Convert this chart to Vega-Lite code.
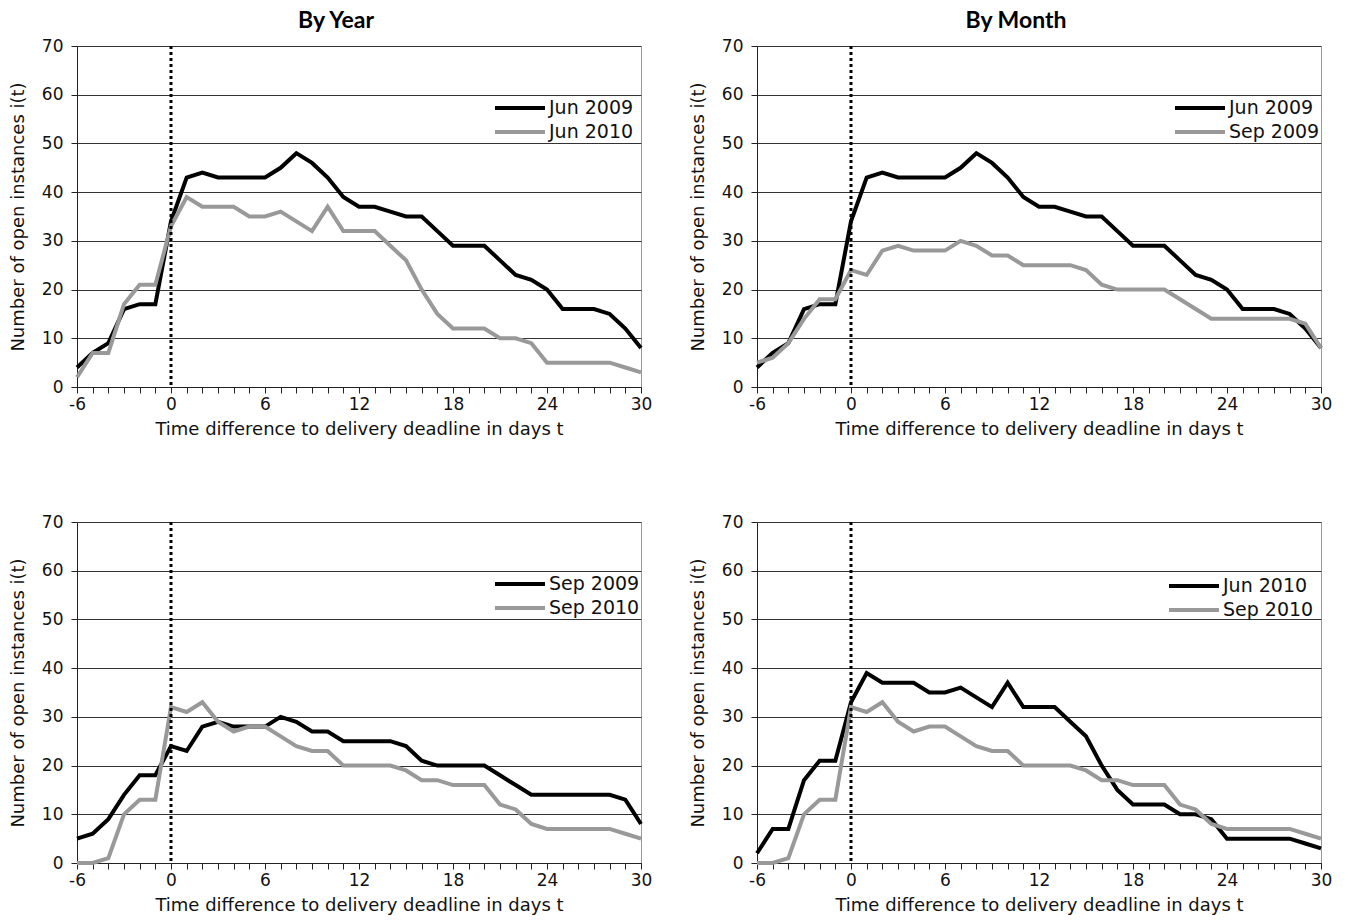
{
"$schema": "https://vega.github.io/schema/vega-lite/v6.json",
"background": "white",
"padding": {"left": 8, "top": 9, "right": 5, "bottom": 5},
"datasets": {"d": [
{"s":"Jun 2009","t":-6,"n":4},{"s":"Jun 2009","t":-5,"n":7},{"s":"Jun 2009","t":-4,"n":9},{"s":"Jun 2009","t":-3,"n":16},{"s":"Jun 2009","t":-2,"n":17},{"s":"Jun 2009","t":-1,"n":17},{"s":"Jun 2009","t":0,"n":34},{"s":"Jun 2009","t":1,"n":43},{"s":"Jun 2009","t":2,"n":44},{"s":"Jun 2009","t":3,"n":43},{"s":"Jun 2009","t":4,"n":43},{"s":"Jun 2009","t":5,"n":43},{"s":"Jun 2009","t":6,"n":43},{"s":"Jun 2009","t":7,"n":45},{"s":"Jun 2009","t":8,"n":48},{"s":"Jun 2009","t":9,"n":46},{"s":"Jun 2009","t":10,"n":43},{"s":"Jun 2009","t":11,"n":39},{"s":"Jun 2009","t":12,"n":37},{"s":"Jun 2009","t":13,"n":37},{"s":"Jun 2009","t":14,"n":36},{"s":"Jun 2009","t":15,"n":35},{"s":"Jun 2009","t":16,"n":35},{"s":"Jun 2009","t":17,"n":32},{"s":"Jun 2009","t":18,"n":29},{"s":"Jun 2009","t":19,"n":29},{"s":"Jun 2009","t":20,"n":29},{"s":"Jun 2009","t":21,"n":26},{"s":"Jun 2009","t":22,"n":23},{"s":"Jun 2009","t":23,"n":22},{"s":"Jun 2009","t":24,"n":20},{"s":"Jun 2009","t":25,"n":16},{"s":"Jun 2009","t":26,"n":16},{"s":"Jun 2009","t":27,"n":16},{"s":"Jun 2009","t":28,"n":15},{"s":"Jun 2009","t":29,"n":12},{"s":"Jun 2009","t":30,"n":8},
{"s":"Sep 2009","t":-6,"n":5},{"s":"Sep 2009","t":-5,"n":6},{"s":"Sep 2009","t":-4,"n":9},{"s":"Sep 2009","t":-3,"n":14},{"s":"Sep 2009","t":-2,"n":18},{"s":"Sep 2009","t":-1,"n":18},{"s":"Sep 2009","t":0,"n":24},{"s":"Sep 2009","t":1,"n":23},{"s":"Sep 2009","t":2,"n":28},{"s":"Sep 2009","t":3,"n":29},{"s":"Sep 2009","t":4,"n":28},{"s":"Sep 2009","t":5,"n":28},{"s":"Sep 2009","t":6,"n":28},{"s":"Sep 2009","t":7,"n":30},{"s":"Sep 2009","t":8,"n":29},{"s":"Sep 2009","t":9,"n":27},{"s":"Sep 2009","t":10,"n":27},{"s":"Sep 2009","t":11,"n":25},{"s":"Sep 2009","t":12,"n":25},{"s":"Sep 2009","t":13,"n":25},{"s":"Sep 2009","t":14,"n":25},{"s":"Sep 2009","t":15,"n":24},{"s":"Sep 2009","t":16,"n":21},{"s":"Sep 2009","t":17,"n":20},{"s":"Sep 2009","t":18,"n":20},{"s":"Sep 2009","t":19,"n":20},{"s":"Sep 2009","t":20,"n":20},{"s":"Sep 2009","t":21,"n":18},{"s":"Sep 2009","t":22,"n":16},{"s":"Sep 2009","t":23,"n":14},{"s":"Sep 2009","t":24,"n":14},{"s":"Sep 2009","t":25,"n":14},{"s":"Sep 2009","t":26,"n":14},{"s":"Sep 2009","t":27,"n":14},{"s":"Sep 2009","t":28,"n":14},{"s":"Sep 2009","t":29,"n":13},{"s":"Sep 2009","t":30,"n":8},
{"s":"Jun 2010","t":-6,"n":2},{"s":"Jun 2010","t":-5,"n":7},{"s":"Jun 2010","t":-4,"n":7},{"s":"Jun 2010","t":-3,"n":17},{"s":"Jun 2010","t":-2,"n":21},{"s":"Jun 2010","t":-1,"n":21},{"s":"Jun 2010","t":0,"n":33},{"s":"Jun 2010","t":1,"n":39},{"s":"Jun 2010","t":2,"n":37},{"s":"Jun 2010","t":3,"n":37},{"s":"Jun 2010","t":4,"n":37},{"s":"Jun 2010","t":5,"n":35},{"s":"Jun 2010","t":6,"n":35},{"s":"Jun 2010","t":7,"n":36},{"s":"Jun 2010","t":8,"n":34},{"s":"Jun 2010","t":9,"n":32},{"s":"Jun 2010","t":10,"n":37},{"s":"Jun 2010","t":11,"n":32},{"s":"Jun 2010","t":12,"n":32},{"s":"Jun 2010","t":13,"n":32},{"s":"Jun 2010","t":14,"n":29},{"s":"Jun 2010","t":15,"n":26},{"s":"Jun 2010","t":16,"n":20},{"s":"Jun 2010","t":17,"n":15},{"s":"Jun 2010","t":18,"n":12},{"s":"Jun 2010","t":19,"n":12},{"s":"Jun 2010","t":20,"n":12},{"s":"Jun 2010","t":21,"n":10},{"s":"Jun 2010","t":22,"n":10},{"s":"Jun 2010","t":23,"n":9},{"s":"Jun 2010","t":24,"n":5},{"s":"Jun 2010","t":25,"n":5},{"s":"Jun 2010","t":26,"n":5},{"s":"Jun 2010","t":27,"n":5},{"s":"Jun 2010","t":28,"n":5},{"s":"Jun 2010","t":29,"n":4},{"s":"Jun 2010","t":30,"n":3},
{"s":"Sep 2010","t":-6,"n":0},{"s":"Sep 2010","t":-5,"n":0},{"s":"Sep 2010","t":-4,"n":1},{"s":"Sep 2010","t":-3,"n":10},{"s":"Sep 2010","t":-2,"n":13},{"s":"Sep 2010","t":-1,"n":13},{"s":"Sep 2010","t":0,"n":32},{"s":"Sep 2010","t":1,"n":31},{"s":"Sep 2010","t":2,"n":33},{"s":"Sep 2010","t":3,"n":29},{"s":"Sep 2010","t":4,"n":27},{"s":"Sep 2010","t":5,"n":28},{"s":"Sep 2010","t":6,"n":28},{"s":"Sep 2010","t":7,"n":26},{"s":"Sep 2010","t":8,"n":24},{"s":"Sep 2010","t":9,"n":23},{"s":"Sep 2010","t":10,"n":23},{"s":"Sep 2010","t":11,"n":20},{"s":"Sep 2010","t":12,"n":20},{"s":"Sep 2010","t":13,"n":20},{"s":"Sep 2010","t":14,"n":20},{"s":"Sep 2010","t":15,"n":19},{"s":"Sep 2010","t":16,"n":17},{"s":"Sep 2010","t":17,"n":17},{"s":"Sep 2010","t":18,"n":16},{"s":"Sep 2010","t":19,"n":16},{"s":"Sep 2010","t":20,"n":16},{"s":"Sep 2010","t":21,"n":12},{"s":"Sep 2010","t":22,"n":11},{"s":"Sep 2010","t":23,"n":8},{"s":"Sep 2010","t":24,"n":7},{"s":"Sep 2010","t":25,"n":7},{"s":"Sep 2010","t":26,"n":7},{"s":"Sep 2010","t":27,"n":7},{"s":"Sep 2010","t":28,"n":7},{"s":"Sep 2010","t":29,"n":6},{"s":"Sep 2010","t":30,"n":5}
]},
"columns": 2,
"spacing": {"row": 135, "column": 116},
"bounds": "flush",
"resolve": {"scale": {"color": "independent"}, "legend": {"color": "independent"}},
"concat": [
{
 "title": "By Year",
 "width": 564, "height": 341,
 "encoding": {"x": {"field": "t", "type": "quantitative", "scale": {"domain": [-6, 30], "nice": false, "zero": false},
   "axis": {"values": [-6,-5,-4,-3,-2,-1,0,1,2,3,4,5,6,7,8,9,10,11,12,13,14,15,16,17,18,19,20,21,22,23,24,25,26,27,28,29,30], "labelExpr": "datum.value % 6 === 0 ? '' + datum.value : ''", "title": "Time difference to delivery deadline in days t", "grid": false}}},
 "layer": [
  {"data": {"name": "d"}, "transform": [{"filter": {"field": "s", "equal": "Jun 2009"}}], "mark": {"type": "line", "strokeWidth": 4},
   "encoding": {"y": {"field": "n", "type": "quantitative", "scale": {"domain": [0, 70]}, "axis": {"values": [0,10,20,30,40,50,60,70], "title": "Number of open instances i(t)"}},
     "color": {"field": "s", "type": "nominal", "scale": {"domain": ["Jun 2009", "Jun 2010"], "range": ["#000000", "#999999"]}, "legend": {"title": null, "orient": "none", "legendX": 416, "legendY": 52}}}},
  {"data": {"name": "d"}, "transform": [{"filter": {"field": "s", "equal": "Jun 2010"}}], "mark": {"type": "line", "strokeWidth": 4},
   "encoding": {"y": {"field": "n", "type": "quantitative", "scale": {"domain": [0, 70]}, "axis": {"values": [0,10,20,30,40,50,60,70], "title": "Number of open instances i(t)"}},
     "color": {"field": "s", "type": "nominal", "scale": {"domain": ["Jun 2009", "Jun 2010"], "range": ["#000000", "#999999"]}, "legend": {"title": null, "orient": "none", "legendX": 416, "legendY": 52}}}},
  {"data": {"values": [{"t": 0}]}, "mark": {"type": "rule", "strokeDash": [3, 3], "strokeWidth": 3, "color": "#000000"}}
 ]
},
{
 "title": "By Month",
 "width": 564, "height": 341,
 "encoding": {"x": {"field": "t", "type": "quantitative", "scale": {"domain": [-6, 30], "nice": false, "zero": false},
   "axis": {"values": [-6,-5,-4,-3,-2,-1,0,1,2,3,4,5,6,7,8,9,10,11,12,13,14,15,16,17,18,19,20,21,22,23,24,25,26,27,28,29,30], "labelExpr": "datum.value % 6 === 0 ? '' + datum.value : ''", "title": "Time difference to delivery deadline in days t", "grid": false}}},
 "layer": [
  {"data": {"name": "d"}, "transform": [{"filter": {"field": "s", "equal": "Jun 2009"}}], "mark": {"type": "line", "strokeWidth": 4},
   "encoding": {"y": {"field": "n", "type": "quantitative", "scale": {"domain": [0, 70]}, "axis": {"values": [0,10,20,30,40,50,60,70], "title": "Number of open instances i(t)"}},
     "color": {"field": "s", "type": "nominal", "scale": {"domain": ["Jun 2009", "Sep 2009"], "range": ["#000000", "#999999"]}, "legend": {"title": null, "orient": "none", "legendX": 416, "legendY": 52}}}},
  {"data": {"name": "d"}, "transform": [{"filter": {"field": "s", "equal": "Sep 2009"}}], "mark": {"type": "line", "strokeWidth": 4},
   "encoding": {"y": {"field": "n", "type": "quantitative", "scale": {"domain": [0, 70]}, "axis": {"values": [0,10,20,30,40,50,60,70], "title": "Number of open instances i(t)"}},
     "color": {"field": "s", "type": "nominal", "scale": {"domain": ["Jun 2009", "Sep 2009"], "range": ["#000000", "#999999"]}, "legend": {"title": null, "orient": "none", "legendX": 416, "legendY": 52}}}},
  {"data": {"values": [{"t": 0}]}, "mark": {"type": "rule", "strokeDash": [3, 3], "strokeWidth": 3, "color": "#000000"}}
 ]
},
{
 "width": 564, "height": 341,
 "encoding": {"x": {"field": "t", "type": "quantitative", "scale": {"domain": [-6, 30], "nice": false, "zero": false},
   "axis": {"values": [-6,-5,-4,-3,-2,-1,0,1,2,3,4,5,6,7,8,9,10,11,12,13,14,15,16,17,18,19,20,21,22,23,24,25,26,27,28,29,30], "labelExpr": "datum.value % 6 === 0 ? '' + datum.value : ''", "title": "Time difference to delivery deadline in days t", "grid": false}}},
 "layer": [
  {"data": {"name": "d"}, "transform": [{"filter": {"field": "s", "equal": "Sep 2009"}}], "mark": {"type": "line", "strokeWidth": 4},
   "encoding": {"y": {"field": "n", "type": "quantitative", "scale": {"domain": [0, 70]}, "axis": {"values": [0,10,20,30,40,50,60,70], "title": "Number of open instances i(t)"}},
     "color": {"field": "s", "type": "nominal", "scale": {"domain": ["Sep 2009", "Sep 2010"], "range": ["#000000", "#999999"]}, "legend": {"title": null, "orient": "none", "legendX": 416, "legendY": 52}}}},
  {"data": {"name": "d"}, "transform": [{"filter": {"field": "s", "equal": "Sep 2010"}}], "mark": {"type": "line", "strokeWidth": 4},
   "encoding": {"y": {"field": "n", "type": "quantitative", "scale": {"domain": [0, 70]}, "axis": {"values": [0,10,20,30,40,50,60,70], "title": "Number of open instances i(t)"}},
     "color": {"field": "s", "type": "nominal", "scale": {"domain": ["Sep 2009", "Sep 2010"], "range": ["#000000", "#999999"]}, "legend": {"title": null, "orient": "none", "legendX": 416, "legendY": 52}}}},
  {"data": {"values": [{"t": 0}]}, "mark": {"type": "rule", "strokeDash": [3, 3], "strokeWidth": 3, "color": "#000000"}}
 ]
},
{
 "width": 564, "height": 341,
 "encoding": {"x": {"field": "t", "type": "quantitative", "scale": {"domain": [-6, 30], "nice": false, "zero": false},
   "axis": {"values": [-6,-5,-4,-3,-2,-1,0,1,2,3,4,5,6,7,8,9,10,11,12,13,14,15,16,17,18,19,20,21,22,23,24,25,26,27,28,29,30], "labelExpr": "datum.value % 6 === 0 ? '' + datum.value : ''", "title": "Time difference to delivery deadline in days t", "grid": false}}},
 "layer": [
  {"data": {"name": "d"}, "transform": [{"filter": {"field": "s", "equal": "Jun 2010"}}], "mark": {"type": "line", "strokeWidth": 4},
   "encoding": {"y": {"field": "n", "type": "quantitative", "scale": {"domain": [0, 70]}, "axis": {"values": [0,10,20,30,40,50,60,70], "title": "Number of open instances i(t)"}},
     "color": {"field": "s", "type": "nominal", "scale": {"domain": ["Jun 2010", "Sep 2010"], "range": ["#000000", "#999999"]}, "legend": {"title": null, "orient": "none", "legendX": 410, "legendY": 54}}}},
  {"data": {"name": "d"}, "transform": [{"filter": {"field": "s", "equal": "Sep 2010"}}], "mark": {"type": "line", "strokeWidth": 4},
   "encoding": {"y": {"field": "n", "type": "quantitative", "scale": {"domain": [0, 70]}, "axis": {"values": [0,10,20,30,40,50,60,70], "title": "Number of open instances i(t)"}},
     "color": {"field": "s", "type": "nominal", "scale": {"domain": ["Jun 2010", "Sep 2010"], "range": ["#000000", "#999999"]}, "legend": {"title": null, "orient": "none", "legendX": 410, "legendY": 54}}}},
  {"data": {"values": [{"t": 0}]}, "mark": {"type": "rule", "strokeDash": [3, 3], "strokeWidth": 3, "color": "#000000"}}
 ]
}
],
"config": {
 "font": "DejaVu Sans",
 "view": {"stroke": "#999999", "strokeWidth": 1},
 "title": {"font": "Lato", "fontWeight": "bold", "fontSize": 23, "color": "#000000", "offset": 4, "anchor": "middle", "dx": -23},
 "axis": {"labelFont": "DejaVu Sans", "titleFont": "DejaVu Sans", "labelFontSize": 17, "titleFontSize": 18, "labelColor": "#111111", "titleColor": "#111111", "titleFontWeight": "normal", "domainColor": "#222222", "tickColor": "#222222", "tickSize": 6, "gridColor": "#333333", "gridWidth": 1, "labelOverlap": false, "labelFlush": false, "labelBound": false},
 "axisX": {"labelPadding": 3, "titlePadding": 8},
 "axisY": {"labelPadding": 8, "titlePadding": 14},
 "legend": {"symbolType": "stroke", "symbolSize": 2500, "symbolStrokeWidth": 4, "clipHeight": 20, "labelFont": "DejaVu Sans", "labelFontSize": 19, "labelColor": "#111111", "labelOffset": 2, "rowPadding": 4}
}
}
